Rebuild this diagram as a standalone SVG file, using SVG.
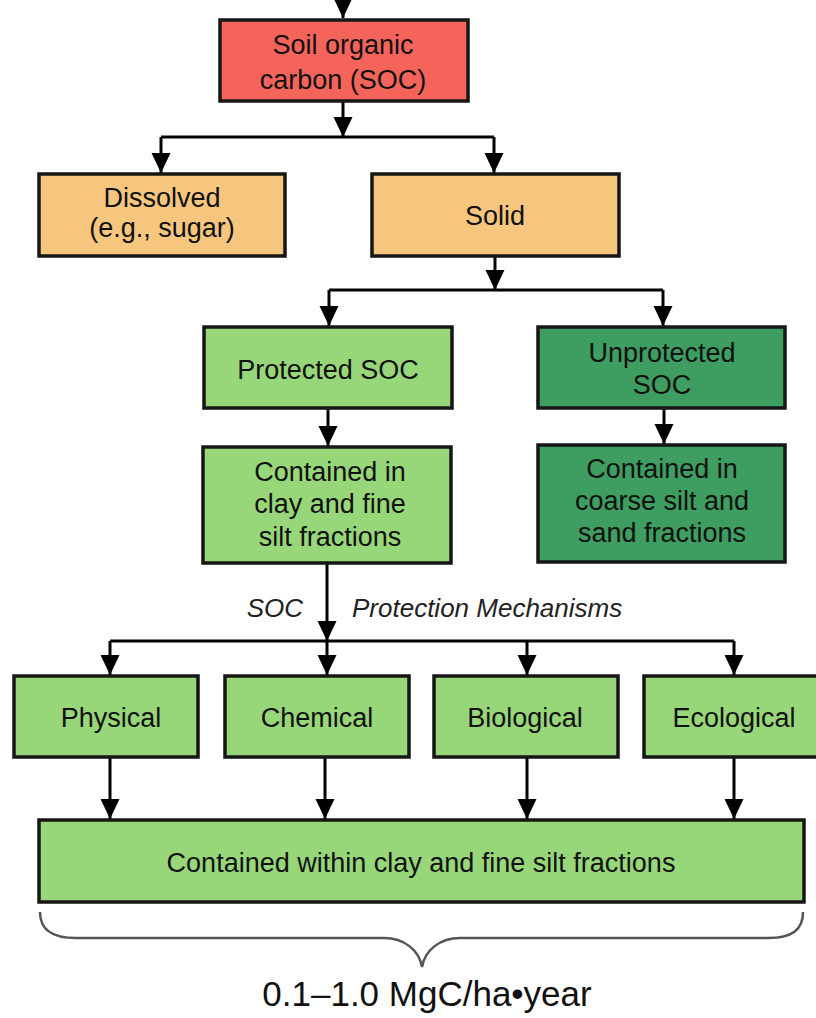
<svg xmlns="http://www.w3.org/2000/svg" width="816" height="1018" viewBox="0 0 816 1018">
<style>
.box{stroke:#161616;stroke-width:3.5}
.red{fill:#F5645A}
.org{fill:#F7C67E}
.lg{fill:#97D77A}
.dg{fill:#3E9D60}
.t{font-family:"Liberation Sans",Arial,sans-serif;font-size:27px;fill:#111;text-anchor:middle}
.it{font-family:"Liberation Sans",Arial,sans-serif;font-size:26px;font-style:italic;fill:#222}
.c{fill:none;stroke:#000;stroke-width:3}
</style>
<defs>
<marker id="ah" markerUnits="userSpaceOnUse" markerWidth="22" markerHeight="22" refX="20" refY="10" orient="auto">
<path d="M0,0.5 L20,10 L0,19.5 z" fill="#000"/>
</marker>
</defs>
<rect width="816" height="1018" fill="#fff"/>
<g id="connectors">
<path class="c" d="M343,-20 V18" marker-end="url(#ah)"/>
<path class="c" d="M343,101 V137" marker-end="url(#ah)"/>
<path class="c" d="M161,137 H494"/>
<path class="c" d="M161,137 V173" marker-end="url(#ah)"/>
<path class="c" d="M494,137 V173" marker-end="url(#ah)"/>
<path class="c" d="M495,256 V290" marker-end="url(#ah)"/>
<path class="c" d="M329,290 H663"/>
<path class="c" d="M329,290 V326" marker-end="url(#ah)"/>
<path class="c" d="M663,290 V326" marker-end="url(#ah)"/>
<path class="c" d="M328,408 V446" marker-end="url(#ah)"/>
<path class="c" d="M664,408 V444" marker-end="url(#ah)"/>
<path class="c" d="M327,563 V641" marker-end="url(#ah)"/>
<path class="c" d="M110,641 H734"/>
<path class="c" d="M110,641 V675" marker-end="url(#ah)"/>
<path class="c" d="M327,641 V675" marker-end="url(#ah)"/>
<path class="c" d="M527,641 V675" marker-end="url(#ah)"/>
<path class="c" d="M734,641 V675" marker-end="url(#ah)"/>
<path class="c" d="M110,757 V819" marker-end="url(#ah)"/>
<path class="c" d="M325,757 V819" marker-end="url(#ah)"/>
<path class="c" d="M527,757 V819" marker-end="url(#ah)"/>
<path class="c" d="M734,757 V819" marker-end="url(#ah)"/>
</g>
<g id="soc">
<rect class="box red" x="220" y="20" width="248" height="81"/>
<text class="t" x="343" y="54">Soil organic</text>
<text class="t" x="343" y="89">carbon (SOC)</text>
</g>
<g id="dissolved">
<rect class="box org" x="39" y="174" width="246" height="82"/>
<text class="t" x="162" y="207">Dissolved</text>
<text class="t" x="162" y="237">(e.g., sugar)</text>
</g>
<g id="solid">
<rect class="box org" x="372" y="174" width="247" height="82"/>
<text class="t" x="495" y="225">Solid</text>
</g>
<g id="protected">
<rect class="box lg" x="204" y="327" width="248" height="81"/>
<text class="t" x="328" y="379">Protected SOC</text>
</g>
<g id="unprotected">
<rect class="box dg" x="538" y="327" width="247" height="81"/>
<text class="t" x="662" y="362">Unprotected</text>
<text class="t" x="662" y="394">SOC</text>
</g>
<g id="clay">
<rect class="box lg" x="203" y="447" width="248" height="116"/>
<text class="t" x="330" y="481">Contained in</text>
<text class="t" x="330" y="513">clay and fine</text>
<text class="t" x="330" y="546">silt fractions</text>
</g>
<g id="coarse">
<rect class="box dg" x="538" y="445" width="247" height="117"/>
<text class="t" x="662" y="478">Contained in</text>
<text class="t" x="662" y="510">coarse silt and</text>
<text class="t" x="662" y="542">sand fractions</text>
</g>
<g id="mech-label">
<text class="it" x="303" y="617" text-anchor="end">SOC</text>
<text class="it" x="352" y="617">Protection Mechanisms</text>
</g>
<g id="physical">
<rect class="box lg" x="14" y="676" width="184" height="81"/>
<text class="t" x="111" y="727">Physical</text>
</g>
<g id="chemical">
<rect class="box lg" x="225" y="676" width="184" height="81"/>
<text class="t" x="317" y="727">Chemical</text>
</g>
<g id="biological">
<rect class="box lg" x="434" y="676" width="184" height="81"/>
<text class="t" x="525" y="727">Biological</text>
</g>
<g id="ecological">
<rect class="box lg" x="644" y="676" width="190" height="81"/>
<text class="t" x="734" y="727">Ecological</text>
</g>
<g id="within">
<rect class="box lg" x="39" y="820" width="765" height="82"/>
<text class="t" x="421" y="872">Contained within clay and fine silt fractions</text>
</g>
<g id="brace">
<path d="M40,912 C40,930 52,938 76,938 L384,938 C404,938 419,950 422,967 C425,950 440,938 460,938 L768,938 C792,938 803,930 803,912" fill="none" stroke="#555" stroke-width="2.5"/>
<text x="427" y="1006" font-family="Liberation Sans, Arial, sans-serif" font-size="35" fill="#111" text-anchor="middle">0.1–1.0 MgC/ha•year</text>
</g>
</svg>
